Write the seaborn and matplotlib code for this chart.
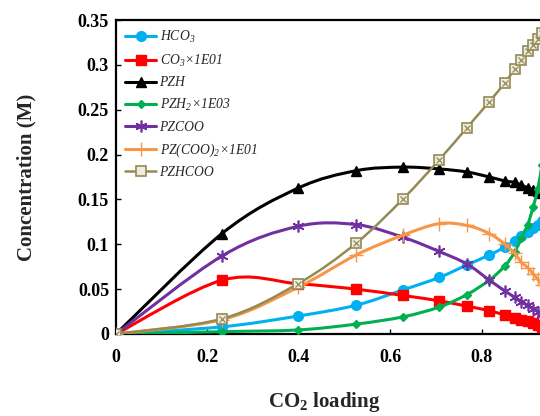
import numpy as np
import matplotlib
matplotlib.use("Agg")
import matplotlib.pyplot as plt
import seaborn as sns
from matplotlib.path import Path
from matplotlib.patches import PathPatch
from matplotlib.lines import Line2D
from matplotlib.ticker import FuncFormatter

# ---------------- data ----------------
loading = [0, 0.232, 0.398, 0.525, 0.627, 0.707, 0.768, 0.817, 0.851, 0.872,
           0.887, 0.901, 0.913, 0.923, 0.932]
hco3 = [0, 0.008, 0.020, 0.032, 0.049, 0.063, 0.077, 0.088, 0.097, 0.104,
        0.109, 0.114, 0.118, 0.122, 0.126]
co3 = [0, 0.060, 0.056, 0.050, 0.043, 0.037, 0.031, 0.026, 0.021, 0.018,
       0.016, 0.014, 0.012, 0.010, 0.008]
pzh = [0, 0.112, 0.1625, 0.182, 0.186, 0.184, 0.1806, 0.175, 0.1706, 0.169,
       0.166, 0.163, 0.161, 0.159, 0.157]
pzh2 = [0, 0.0026, 0.0045, 0.011, 0.019, 0.030, 0.044, 0.060, 0.076, 0.091,
        0.107, 0.122, 0.142, 0.162, 0.188]
pzcoo = [0, 0.087, 0.120, 0.122, 0.108, 0.092, 0.078, 0.060, 0.048, 0.041,
         0.036, 0.032, 0.028, 0.025, 0.022]
pzcoo2 = [0, 0.016, 0.052, 0.088, 0.110, 0.123, 0.121, 0.112, 0.100, 0.090,
          0.080, 0.074, 0.067, 0.061, 0.055]
pzhcoo = [0, 0.017, 0.056, 0.101, 0.150, 0.194, 0.230, 0.259, 0.280, 0.295,
          0.305, 0.315, 0.322, 0.329, 0.336]

labels = ["HCO$_3$", "CO$_3$×1E01", "PZH", "PZH$_2$×1E03", "PZCOO",
          "PZ(COO)$_2$×1E01", "PZHCOO"]
x_ticks = [0, 0.2, 0.4, 0.6, 0.8]
y_ticks = [0, 0.05, 0.1, 0.15, 0.2, 0.25, 0.3, 0.35]

# ---------------- style ----------------
sns.set_style("ticks")
plt.rcParams["font.family"] = ["Liberation Serif", "DejaVu Serif"]
plt.rcParams["mathtext.fontset"] = "custom"
plt.rcParams["mathtext.rm"] = "Liberation Serif:italic"
plt.rcParams["mathtext.it"] = "Liberation Serif:italic"
plt.rcParams["mathtext.bf"] = "Liberation Serif:bold"

fig = plt.figure(figsize=(5.4, 4.16), dpi=100)
ax = fig.add_axes([116 / 540, 82 / 416, 457 / 540, 314 / 416])

series = [
    dict(y=hco3, color="#00B0F0", marker="o", ms=7, lw=2.2, mfc="#00B0F0", mec="#00B0F0", mew=1),
    dict(y=co3, color="#FF0000", marker="s", ms=7, lw=2.2, mfc="#FF0000", mec="#FF0000", mew=1),
    dict(y=pzh, color="#000000", marker="^", ms=7.5, lw=2.2, mfc="#000000", mec="#000000", mew=1),
    dict(y=pzh2, color="#00B050", marker="D", ms=4.5, lw=2.2, mfc="#00B050", mec="#00B050", mew=1),
    dict(y=pzcoo, color="#7030A0", marker=(6, 2, 0), ms=8.5, lw=2.2, mfc="#7030A0", mec="#7030A0", mew=1.2),
    dict(y=pzcoo2, color="#F79646", marker="+", ms=9.5, lw=2.2, mfc="#F79646", mec="#F79646", mew=1.0),
    dict(y=pzhcoo, color="#948A54", marker="s", ms=7, lw=1.8, mfc="#EEECE1", mec="#948A54", mew=1.2),
]


def smooth_path(xs, ys):
    pts = np.column_stack([xs, ys]).astype(float)
    n = len(pts)
    verts = [pts[0]]
    codes = [Path.MOVETO]
    for i in range(n - 1):
        p0 = pts[i - 1] if i > 0 else pts[i]
        p1 = pts[i]
        p2 = pts[i + 1]
        p3 = pts[i + 2] if i + 2 < n else pts[i + 1]
        c1 = p1 + (p2 - p0) / 6.0
        c2 = p2 - (p3 - p1) / 6.0
        verts += [c1, c2, p2]
        codes += [Path.CURVE4] * 3
    return Path(verts, codes)


handles = []
for k, s in enumerate(series):
    z = 3 + 2 * k
    patch = PathPatch(smooth_path(loading, s["y"]), fill=False, edgecolor=s["color"],
                      lw=s["lw"], zorder=z, capstyle="round", joinstyle="round")
    ax.add_patch(patch)
    sns.lineplot(x=loading, y=s["y"], ax=ax, linestyle="", marker=s["marker"],
                 markersize=s["ms"], markerfacecolor=s["mfc"], markeredgecolor=s["mec"],
                 markeredgewidth=s["mew"], color=s["color"], zorder=z + 1, sort=False)
    if k == 6:
        sns.lineplot(x=loading, y=s["y"], ax=ax, linestyle="", marker="x",
                     markersize=4.5, markeredgecolor=s["mec"], markeredgewidth=0.9,
                     color=s["color"], zorder=z + 1.5, sort=False)
    handles.append(Line2D([0], [0], color=s["color"], lw=s["lw"], marker=s["marker"],
                          markersize=s["ms"], markerfacecolor=s["mfc"],
                          markeredgecolor=s["mec"], markeredgewidth=s["mew"]))

ax.set_xlim(0, 1.0)
ax.set_ylim(0, 0.35)
ax.set_xticks(x_ticks)
ax.set_yticks(y_ticks)
fmt = FuncFormatter(lambda v, p: f"{v:g}")
ax.xaxis.set_major_formatter(fmt)
ax.yaxis.set_major_formatter(fmt)
ax.tick_params(direction="in", length=3.5, width=1, labelsize=13, colors="black")
ax.tick_params(axis="x", pad=11)
ax.tick_params(axis="y", pad=5)
for lab in ax.get_xticklabels() + ax.get_yticklabels():
    lab.set_fontweight("bold")

for side in ["left", "bottom", "top", "right"]:
    ax.spines[side].set_visible(True)
    ax.spines[side].set_linewidth(1.6)
    ax.spines[side].set_color("black")

ax.set_xlabel("CO$_\\mathbf{2}$ loading", fontsize=15, fontweight="bold")
ax.set_ylabel("Concentration (M)", fontsize=15, fontweight="bold")
ax.xaxis.set_label_coords(0.455, -0.178)
ax.yaxis.set_label_coords(-0.175, 0.5)

leg = ax.legend(handles, labels, loc="upper left", frameon=False,
                prop=dict(family="Liberation Serif", style="italic", size=9.8),
                handlelength=2.3, handletextpad=0.25, labelspacing=0.56,
                borderaxespad=0.3, borderpad=0.35)
leg.set_zorder(30)

fig.savefig("out.png", dpi=100)
